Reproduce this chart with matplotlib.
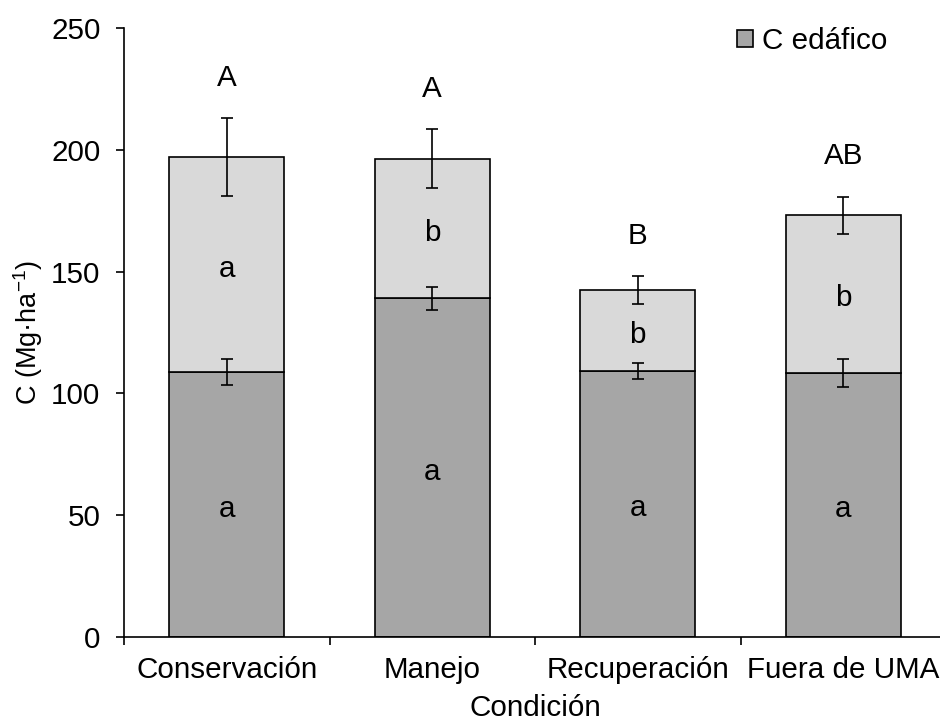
import numpy as np
import matplotlib
matplotlib.use('Agg')
import matplotlib.pyplot as plt
from matplotlib.patches import Patch

plt.rcParams['font.family'] = ['Liberation Sans', 'DejaVu Sans']

# data
condiciones = ['Conservación', 'Manejo', 'Recuperación', 'Fuera de UMA']
c_edafico = np.array([108.7, 139.0, 109.3, 108.3])
c_edafico_err = np.array([5.4, 4.7, 3.2, 5.7])
c_total = np.array([196.9, 196.4, 142.4, 173.1])
c_total_err = np.array([16.0, 12.1, 5.7, 7.7])
letras_edafico = ['a', 'a', 'a', 'a']
letras_sup = ['a', 'b', 'b', 'b']
letras_total = ['A', 'A', 'B', 'AB']

c_sup = c_total - c_edafico

fig = plt.figure(figsize=(9.4, 7.24), dpi=100)
ax = fig.add_axes([124/940, 87/724, 822/940, 609/724])

x = np.arange(len(condiciones))
w = 0.56
ax.bar(x, c_edafico, width=w, color='#a6a6a6', edgecolor='black', linewidth=1.2, zorder=2)
ax.bar(x, c_sup, width=w, bottom=c_edafico, color='#d9d9d9', edgecolor='black', linewidth=1.2, zorder=2)
ax.errorbar(x, c_edafico, yerr=c_edafico_err, fmt='none', ecolor='black', elinewidth=1.2,
            capsize=4, capthick=1.2, zorder=3)
ax.errorbar(x, c_total, yerr=c_total_err, fmt='none', ecolor='black', elinewidth=1.2,
            capsize=4, capthick=1.2, zorder=3)

fs = 21.3
for i in range(len(x)):
    ax.annotate(letras_edafico[i], (x[i], c_edafico[i] / 2), xytext=(0, -3),
                textcoords='offset points', ha='center', va='center', fontsize=fs)
    ax.annotate(letras_sup[i], (x[i], c_edafico[i] + c_sup[i] / 2), xytext=(0, -3),
                textcoords='offset points', ha='center', va='center', fontsize=fs)
    ax.annotate(letras_total[i], (x[i], c_total[i] + c_total_err[i]), xytext=(0, 29),
                textcoords='offset points', ha='center', va='center', fontsize=fs)

ax.set_xlim(-0.5, 3.5)
ax.set_ylim(0, 250)
ax.set_yticks([0, 50, 100, 150, 200, 250])
ax.set_xticks(x)
ax.set_xticklabels(condiciones)
ax.set_xticks(np.arange(-0.5, 4, 1), minor=True)
ax.tick_params(axis='x', which='major', length=0, pad=14, labelsize=fs)
ax.tick_params(axis='x', which='minor', length=6, width=1.2, direction='out')
ax.tick_params(axis='y', length=6, width=1.2, direction='out', labelsize=fs, pad=11)

for s in ['top', 'right']:
    ax.spines[s].set_visible(False)
for s in ['left', 'bottom']:
    ax.spines[s].set_linewidth(1.2)

ax.set_xlabel('Condición', fontsize=fs, labelpad=7)
ax.set_ylabel('C (Mg·ha$^{\\mathregular{-1}}$)', fontsize=19.5, labelpad=4)

handle = Patch(facecolor='#a6a6a6', edgecolor='black', linewidth=1.2)
fig.legend([handle], ['C edáfico'], loc='upper left', bbox_to_anchor=(737/940, 1 - 27/724),
           frameon=False, fontsize=fs, handlelength=0.55, handleheight=0.55,
           handletextpad=0.3, borderpad=0, borderaxespad=0)

fig.savefig('out.png', dpi=100)
